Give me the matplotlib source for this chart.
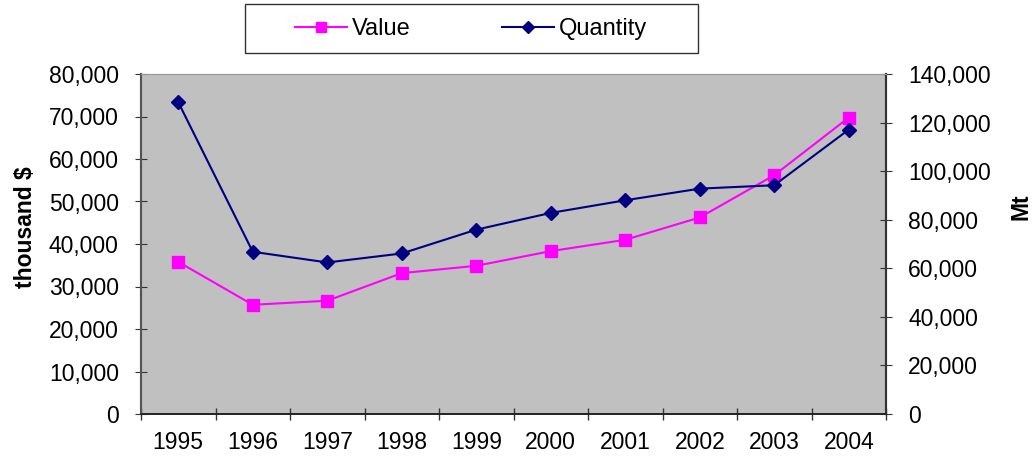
import matplotlib
matplotlib.use("Agg")
import matplotlib.pyplot as plt
import numpy as np
from matplotlib.ticker import FuncFormatter
from matplotlib.patches import Rectangle

years = ["1995", "1996", "1997", "1998", "1999", "2000", "2001", "2002", "2003", "2004"]
value = [35800, 25700, 26650, 33150, 34870, 38320, 40990, 46240, 56190, 69750]
quantity = [128400, 66800, 62400, 66100, 75900, 82800, 88000, 92800, 94200, 117100]

plt.rcParams['font.family'] = ['Liberation Sans', 'DejaVu Sans']
fontsize = 16.5

W, H = 1033, 463
fig = plt.figure(figsize=(W / 100, H / 100), dpi=100)
ax = fig.add_axes([141/W, 1 - 414/H, (886 - 141)/W, (414 - 74)/H])
ax2 = ax.twinx()

x = np.arange(len(years))
l1, = ax.plot(x, value, color='#FF00FF', marker='s', markersize=9, linewidth=1.5, label='Value')
l2, = ax2.plot(x, quantity, color='#000080', marker='D', markersize=7.5, linewidth=1.5, label='Quantity')

ax.set_facecolor('#C0C0C0')
ax.set_xlim(-0.5, len(years) - 0.5)
ax.set_ylim(0, 80000)
ax2.set_ylim(0, 140000)
ax.set_yticks(np.arange(0, 80001, 10000))
ax2.set_yticks(np.arange(0, 140001, 20000))
fmt = FuncFormatter(lambda v, p: f"{int(v):,}")
ax.yaxis.set_major_formatter(fmt)
ax2.yaxis.set_major_formatter(fmt)

ax.set_xticks(x)
ax.set_xticklabels(years, fontsize=fontsize)
ax.set_xticks(np.arange(-0.5, len(years)), minor=True)
ax.tick_params(axis='x', which='major', length=0, pad=12)
ax.tick_params(axis='x', which='minor', direction='inout', length=8, width=1, color='#333333')
ax.tick_params(axis='y', direction='inout', length=8, labelsize=fontsize, pad=12, color='#333333')
ax2.tick_params(axis='y', direction='inout', length=8, labelsize=fontsize, pad=12, color='#333333')

for a in (ax, ax2):
    a.spines['top'].set_color('#999999')
    a.spines['left'].set_color('#555555')
    a.spines['left'].set_linewidth(1.5)
    a.spines['right'].set_color('#333333')
    a.spines['right'].set_linewidth(1.5)
    a.spines['bottom'].set_color('#222222')
    a.spines['bottom'].set_linewidth(1.2)

ax.set_ylabel('thousand $', fontsize=fontsize, fontweight='bold')
ax.yaxis.set_label_coords(-0.14, 0.55)
ax2.set_ylabel('Mt', fontsize=fontsize, fontweight='bold', rotation=90)
ax2.yaxis.set_label_coords(1.166, 0.61)

# legend box drawn separately so its size matches the original
fig.patches.append(Rectangle((245/W, 1 - 53/H), (698 - 245)/W, 49/H, transform=fig.transFigure,
                             facecolor='white', edgecolor='#333333', linewidth=1.0))
fig.legend(handles=[l1, l2], loc='center', bbox_to_anchor=(471/W, 1 - 29/H),
           ncol=2, fontsize=17, frameon=False, borderpad=0, columnspacing=3.9,
           handlelength=2.2, handletextpad=0.2, markerscale=0.75)

plt.savefig("out.png", dpi=100)
